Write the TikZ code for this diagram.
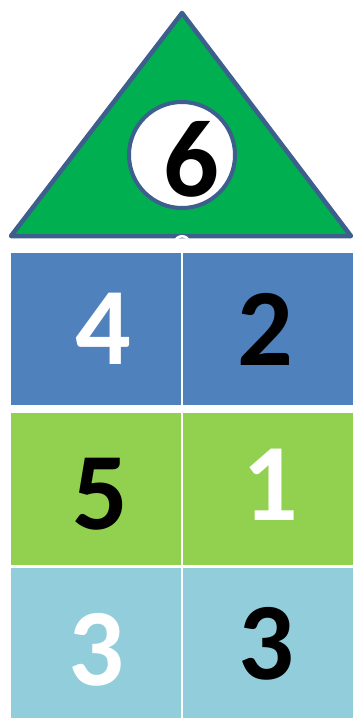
\documentclass[tikz,border=0pt]{standalone}
\usepackage{fontspec}
\setmainfont{Carlito}
\usetikzlibrary{positioning}
\definecolor{roofcol}{HTML}{00B050}
\definecolor{edgecol}{HTML}{3D5F8E}
\definecolor{bluecol}{HTML}{4F81BD}
\definecolor{limecol}{HTML}{92D050}
\definecolor{skycol}{HTML}{92CDDC}

\begin{document}
\begin{tikzpicture}[x=1pt,y=-1pt,
  cell/.style={minimum width=170pt,minimum height=152pt,inner sep=0pt,anchor=north west},
  digit/.style={font=\fontsize{110}{110}\selectfont\bfseries,inner sep=0pt}]
  \useasboundingbox (0,0) rectangle (355,718);
  % roof with the ball
  \draw[edgecol,line width=4.5pt,line join=round,fill=roofcol] (182,13) -- (351,236) -- (11,236) -- cycle;
  \node[circle,draw=edgecol,line width=4pt,fill=white,minimum size=106pt] (ball) at (182,155) {};
  \node[digit] (six) at (191,159) {6};
  \draw[white,line width=2.5pt] (175,243) .. controls (175,234) and (189,234) .. (189,243);
  % rooms
  \node[cell,fill=bluecol] (c11) at (11,253) {};
  \node[cell,fill=bluecol] (c12) at (183,253) {};
  \node[cell,fill=limecol] (c21) at (11,413) {};
  \node[cell,fill=limecol] (c22) at (183,413) {};
  \node[cell,fill=skycol,minimum height=150pt] (c31) at (11,568) {};
  \node[cell,fill=skycol,minimum height=150pt] (c32) at (183,568) {};
  \node[digit,white] (d11) at (103,329) {4};
  \node[digit] (d12) at (265,329) {2};
  \node[digit] (d21) at (100,494) {5};
  \node[digit,white] (d22) at (270,485) {1};
  \node[digit,white] (d31) at (96,650) {3};
  \node[digit] (d32) at (266,644) {3};
\end{tikzpicture}
\end{document}
